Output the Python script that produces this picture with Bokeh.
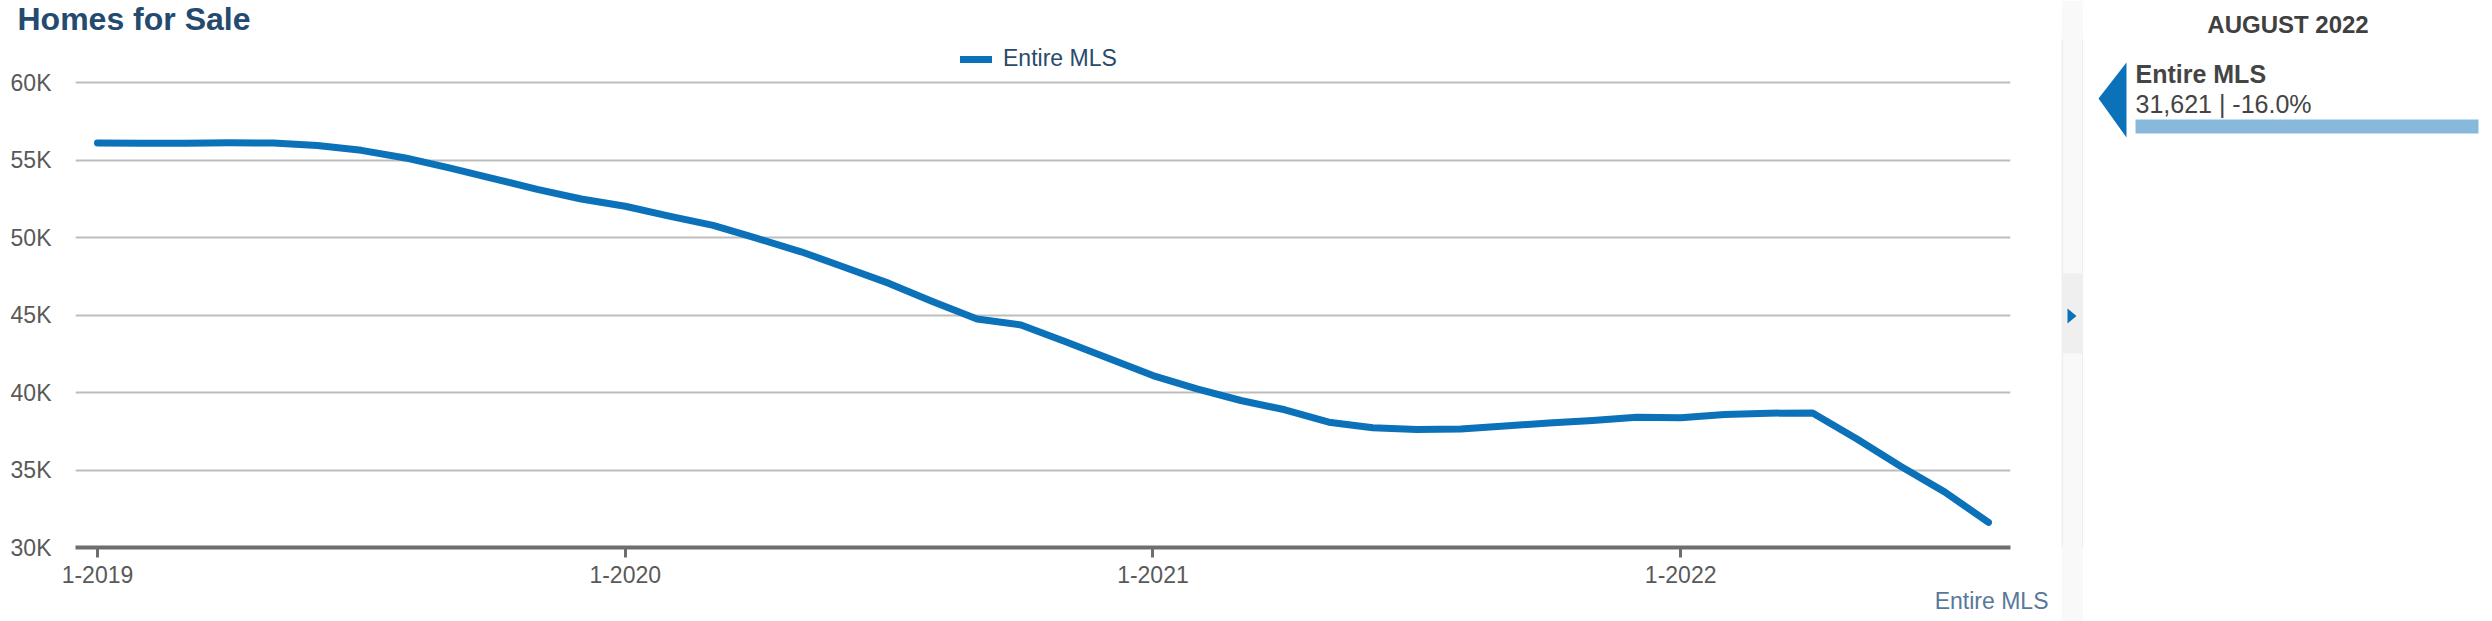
from bokeh.plotting import figure
from bokeh.layouts import row
from bokeh.models import (FixedTicker, Legend, LegendItem, Range1d, Title)
from bokeh.core.properties import value
from bokeh.embed import file_html
from bokeh.resources import INLINE

# ---------------- data ----------------
months = [f"{m}-{y}" for y in range(2019, 2023) for m in range(1, 13)][:44]
homes_for_sale = [56110, 56090, 56090, 56130, 56110, 55950, 55640, 55150, 54510, 53820,
                  53120, 52500, 52030, 51390, 50800, 49950, 49090, 48080, 47050, 45870,
                  44750, 44370, 43300, 42200, 41100, 40240, 39490, 38890, 38090, 37730,
                  37620, 37650, 37850, 38030, 38200, 38410, 38370, 38590, 38670, 38690,
                  37020, 35240, 33590, 31621]
y_ticks = [30000, 35000, 40000, 45000, 50000, 55000, 60000]
y_tick_labels = ["30K", "35K", "40K", "45K", "50K", "55K", "60K"]
series_name = "Entire MLS"
latest_label = "AUGUST 2022"
latest_value = "31,621 | -16.0%"
chart_title = "Homes for Sale"

idx = list(range(len(months)))
x_tick_idx = [i for i, m in enumerate(months) if m.startswith("1-")]

# ---------------- style / layout ----------------
FONT = "Liberation Sans"
BLUE = "#0b72b9"
H = 621
TOP, BOTTOM = 38, 74          # shared border sizes (frames of a row are aligned)
FRAME_TOP, FRAME_BOTTOM = TOP, H - BOTTOM
MAIN_W, BAND_W, SIDE_W = 2061, 22, 409

p = figure(width=MAIN_W, height=H, output_backend="svg", toolbar_location=None,
           x_range=Range1d(-0.5, len(months) - 0.5), y_range=Range1d(30000, 62860),
           min_border_left=75, min_border_right=51, min_border_top=TOP,
           min_border_bottom=BOTTOM, outline_line_color=None, title=None,
           background_fill_color="white", border_fill_color="white")

r = p.line(idx, homes_for_sale, line_width=7, line_color=BLUE,
           line_cap="round", line_join="round")

# axes
p.xaxis.ticker = FixedTicker(ticks=x_tick_idx)
p.xaxis.major_label_overrides = {i: months[i] for i in x_tick_idx}
p.xaxis.axis_line_color = "#6e6e6e"
p.xaxis.axis_line_width = 4
p.xaxis.major_tick_line_color = "#6e6e6e"
p.xaxis.major_tick_line_width = 3
p.xaxis.major_tick_out = 10
p.xaxis.major_tick_in = 0
p.xaxis.minor_tick_line_color = None
p.xaxis.major_label_standoff = 8
p.xaxis.major_label_text_font = FONT
p.xaxis.major_label_text_font_size = "23px"
p.xaxis.major_label_text_color = "#595959"

p.yaxis.ticker = FixedTicker(ticks=y_ticks)
p.yaxis.major_label_overrides = dict(zip(y_ticks, y_tick_labels))
p.yaxis.axis_line_color = None
p.yaxis.major_tick_line_color = None
p.yaxis.minor_tick_line_color = None
p.yaxis.major_label_standoff = 18
p.yaxis.major_label_text_font = FONT
p.yaxis.major_label_text_font_size = "23px"
p.yaxis.major_label_text_color = "#595959"

p.xgrid.grid_line_color = None
p.ygrid.grid_line_color = "#bdbdbd"
p.ygrid.grid_line_width = 2

# legend (inside frame, top centre)
legend = Legend(items=[LegendItem(label=series_name, renderers=[r])],
                location=(885, 475), orientation="horizontal",
                padding=0, margin=0, spacing=0, glyph_width=32, glyph_height=20,
                label_standoff=11, border_line_color=None, background_fill_alpha=0,
                label_text_font=FONT, label_text_font_size="23px",
                label_text_color="#2a4a6b")
p.add_layout(legend)

# chart title (top-left)
p.add_layout(Title(text=chart_title, align="left", offset=-58, vertical_align="top",
                   standoff=0, text_font=FONT, text_font_size="32px",
                   text_font_style="bold", text_color="#244a70"), "above")
# series caption (bottom-right)
p.add_layout(Title(text=series_name, align="right", offset=-38, vertical_align="bottom",
                   standoff=0, text_font=FONT, text_font_size="23px",
                   text_font_style="normal", text_color="#58789a"), "below")


def panel(width, fill):
    f = figure(width=width, height=H, output_backend="svg", toolbar_location=None,
               x_range=Range1d(0, width), y_range=Range1d(FRAME_BOTTOM, FRAME_TOP),
               min_border_left=0, min_border_right=0, min_border_top=TOP,
               min_border_bottom=BOTTOM, outline_line_color=None, title=None,
               background_fill_color=fill, border_fill_color=fill)
    f.axis.visible = False
    f.grid.visible = False
    return f


# ---------------- separator band with collapse arrow ----------------
b = panel(BAND_W, "#f9f9f9")
b.quad(left=[0, BAND_W - 1.5], right=[1.5, BAND_W], top=FRAME_TOP, bottom=FRAME_BOTTOM,
       fill_color="#eeeeee", line_color=None)
b.quad(left=1.5, right=BAND_W - 1.5, top=273, bottom=353, fill_color="#efefef",
       line_color=None)
b.patch([6, 6, 15], [308, 323, 315.5], fill_color=BLUE, line_color=None)

# ---------------- latest-value card ----------------
s = panel(SIDE_W, "white")
s.add_layout(Title(text=latest_label, align="center", vertical_align="bottom", standoff=2,
                   text_font=FONT, text_font_size="24px", text_font_style="bold",
                   text_color="#404040"), "above")
s.patch([43, 43, 15], [62, 137, 98], fill_color=BLUE, line_color=None)
s.text(x=[52], y=[73], text=[series_name], text_font=value(FONT), text_font_size="25px",
       text_font_style="bold", text_color="#444444", text_align="left",
       text_baseline="alphabetic")
s.text(x=[52], y=[103], text=[latest_value], text_font=value(FONT), text_font_size="25px",
       text_color="#444444", text_align="left", text_baseline="alphabetic")
bar_frac = homes_for_sale[-1] / max([homes_for_sale[-1]])
s.quad(left=52, right=52 + 343 * bar_frac, top=119, bottom=133, fill_color="#88b9dd",
       line_color=None)

layout = row(p, b, s, spacing=0)
open("out.html", "w").write(file_html(layout, INLINE))
